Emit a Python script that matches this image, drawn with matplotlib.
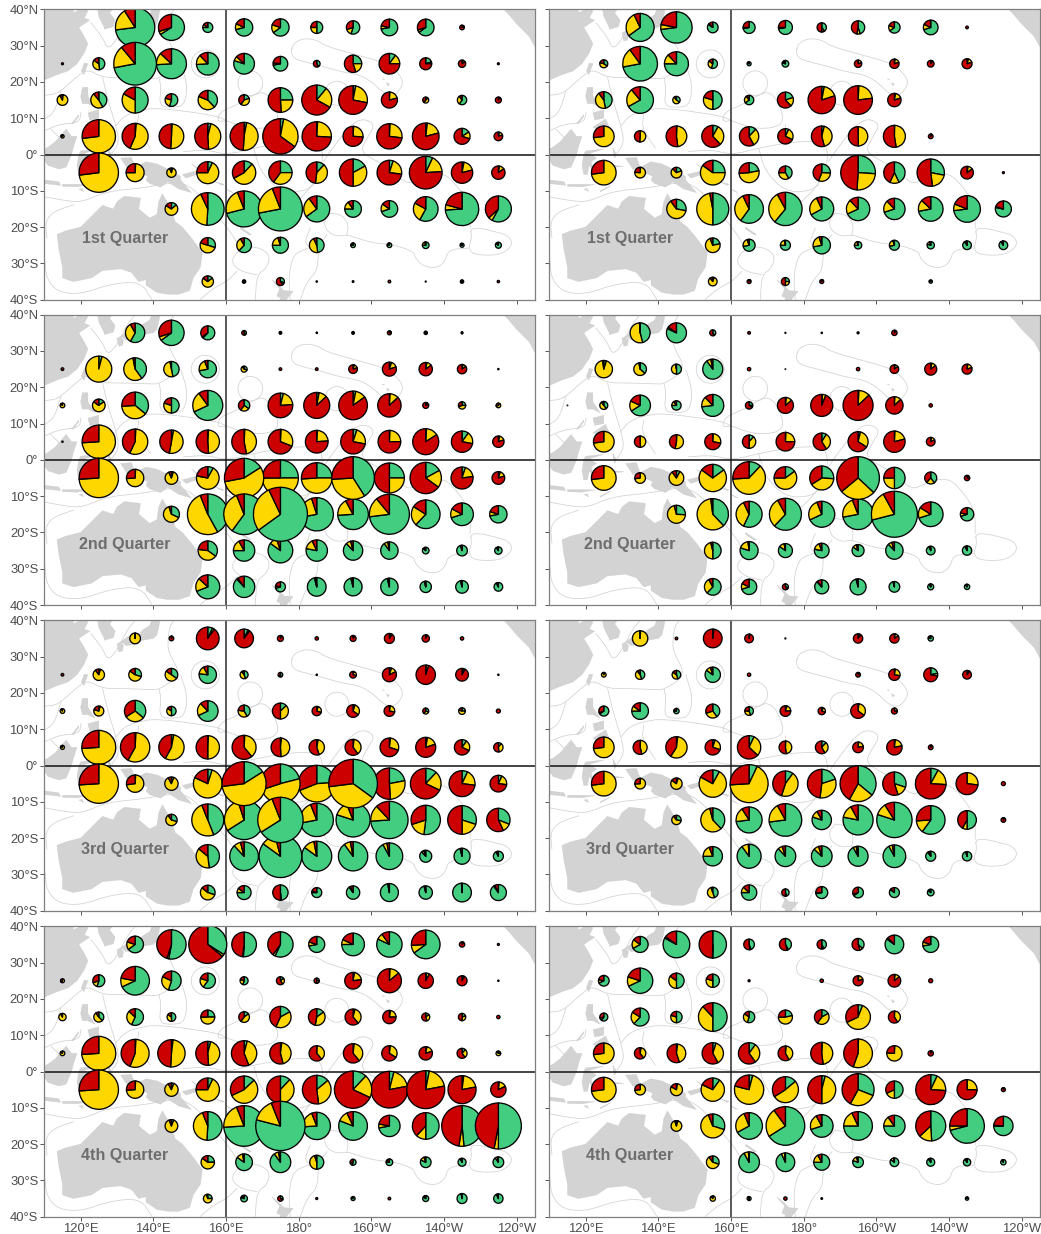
import numpy as np
import matplotlib
matplotlib.use("Agg")
import matplotlib.pyplot as plt
from matplotlib.patches import Wedge, Polygon, Circle

plt.rcParams['font.family'] = ['Liberation Sans', 'DejaVu Sans']

LONS = [115, 125, 135, 145, 155, 165, 175, 185, 195, 205, 215, 225, 235]
LATS = [35, 25, 15, 5, -5, -15, -25, -35]
XTICKS = [120, 140, 160, 180, 200, 220, 240]
XLABELS = ['120°E', '140°E', '160°E', '180°', '160°W', '140°W', '120°W']
YTICKS = [40, 30, 20, 10, 0, -10, -20, -30, -40]
YLABELS = ['40°N', '30°N', '20°N', '10°N', '0°', '10°S', '20°S', '30°S', '40°S']
GEAR_COLORS = ['#43CD80', '#FFD700', '#CD0000']
QUARTERS = ['1st Quarter', '2nd Quarter', '3rd Quarter', '4th Quarter']

Q1L_SIZE = [[0,0,60,40,16,27,27,19,21,26,26,8,0],
            [4,19,65,46,35,32,23,11,27,32,19,12,4],
            [17,25,40,20,30,17,38,46,44,25,10,15,10],
            [6,51,40,38,40,43,54,45,31,39,41,25,14],
            [0,60,28,15,34,36,36,33,42,38,50,33,21],
            [0,0,0,20,50,55,67,40,26,26,38,51,40],
            [0,0,0,0,24,23,25,23,8,8,11,7,10],
            [0,0,0,0,18,6,13,3,3.5,5,2.5,6,4.5]]
Q1L_GREEN = [[0,0,73,66,75,71,65,50,55,72,65,15,0],
             [0,48,72,74,74,80,72,40,25,10,20,5,0],
             [2,42,50,55,38,20,25,11,3,1,15,60,3],
             [0,0,1.5,1,4,3,3,1,1,1,2,16,5],
             [0,0,1,5,7,12,25,12,17,5,7,3,3],
             [0,0,0,14,51,71,72,65,75,70,58,74,58],
             [0,0,0,0,30,62,75,48,80,80,75,85,85],
             [0,0,0,0,15,60,30,0,0,0,0,60,0]]
Q1L_YELLOW = [[0,0,18,4,10,11,15,25,15,6,5,5,0],
              [0,37,17,13,14,7,5,5,20,15,5,10,0],
              [90,47,33,25,43,40,24,22,25,20,45,30,7],
              [85,73,55,50,45,48,32,25,25,26,19,14,15],
              [0,73,74,88,68,55,35,40,33,22,17,18,12],
              [0,0,0,70,42,23,22,25,15,15,25,5,5],
              [0,0,0,0,50,30,20,45,15,15,20,10,10],
              [0,0,0,0,70,10,10,0,0,0,0,10,0]]

Q1R_SIZE = [[0,0,43,48,17,19,22,15,21,18,23,5,0],
            [0,13,53,37,15,7,11,0,12,15,11,16,0],
            [0,26,41,12,29,15,25,42,44,21,0,0,0],
            [0,32,18,32,34,30,24,32,30,34,8,0,0],
            [0,38,17,17,38,31,21,27,53,33,42,20,4],
            [0,0,0,30,49,44,51,37,36,33,38,41,25],
            [0,0,0,0,23,19,16,27,12,16,12,14,14],
            [0,0,0,0,14,7,13,7,0,0,6,0,0]]
Q1R_GREEN = [[0,0,65,73,85,72,72,40,45,65,70,0,0],
             [0,35,72,75,55,85,80,0,2,3,5,5,0],
             [0,47,67,35,50,65,20,3,1,3,0,0,0],
             [0,0,1,1,8,12,7,4,0.5,0.5,2,0,0],
             [0,0,1,20,25,22,42,26,26,43,28,3,0],
             [0,0,0,28,50,60,61,67,68,70,72,73,78],
             [0,0,0,0,22,72,75,72,75,72,80,90,90],
             [0,0,0,0,5,10,25,5,0,0,80,0,0]]
Q1R_YELLOW = [[0,0,28,5,3,3,3,10,8,15,12,0,0],
              [0,45,18,13,30,5,10,0,18,17,5,15,0],
              [0,43,22,55,30,25,18,17,22,17,0,0,0],
              [0,73,50,47,30,30,25,42,49,47,3,0,0],
              [0,73,75,68,60,52,33,30,25,14,20,12,0],
              [0,0,0,62,47,33,31,26,20,18,15,8,2],
              [0,0,0,0,72,23,22,23,20,23,15,7,7],
              [0,0,0,0,85,5,25,5,0,0,0,0,0]]

Q2L_SIZE = [[0,0,30,39,22,8,5,3,5,7,6,4,0],
            [5,40,35,24,27,10,5,5,14,22,21,15,3],
            [8,20,41,24,46,18,38,40,44,36,10,12,8],
            [3,51,39,36,36,38,38,35,38,35,40,33,18],
            [0,60,27,20,35,60,55,47,65,46,48,34,20],
            [0,0,0,25,62,62,82,51,47,61,44,35,27],
            [0,0,0,0,30,33,38,33,30,27,11,17,12],
            [0,0,0,0,37,33,16,29,28,27,18,20,14]]
Q2L_GREEN = [[0,0,58,65,62,40,50,50,50,10,50,50,0],
             [0,4,40,47,72,30,0,0,5,5,3,3,0],
             [0,15,36,50,68,35,4,3,3,1,10,25,10],
             [0,0,1,3,1,1,1,1,5,1,1,10,4],
             [0,0,1,5,8,16,25,25,41,25,17,5,5],
             [0,0,0,32,42,60,65,72,74,73,62,70,72],
             [0,0,0,0,35,75,85,78,88,90,85,95,90],
             [0,0,0,0,69,88,70,96,96,96,96,96,92]]
Q2L_YELLOW = [[0,0,34,5,3,5,0,0,0,5,0,0,0],
              [0,96,57,50,22,60,0,0,15,15,12,12,0],
              [85,70,38,30,22,25,20,10,12,12,10,45,60],
              [0,74,56,50,48,46,30,23,23,24,15,18,16],
              [0,74,73,88,70,56,50,49,33,25,18,18,15],
              [0,0,0,63,52,34,28,23,18,16,22,13,8],
              [0,0,0,0,42,17,10,15,8,7,10,3,7],
              [0,0,0,0,18,2,8,2,3,3,3,3,5]]

Q2R_SIZE = [[0,0,31,31,10,5,2.5,3,4,9,0,0,0],
            [0,27,20,16,31,6,2,0,6,14,19,16,0],
            [2,13,32,15,34,12,25,34,46,27,6,0,0],
            [0,32,18,22,25,21,29,27,31,33,14,0,0],
            [0,38,17,23,42,50,35,37,65,33,19,9,0],
            [0,0,0,28,48,40,49,40,47,70,38,21,0],
            [0,0,0,0,26,28,22,23,19,27,14,15,0],
            [0,0,0,0,26,24,10,22,25,17,10,9,0]]
Q2R_GREEN = [[0,0,46,82,40,0,0,0,0,5,0,0,0],
             [0,5,37,50,90,0,0,0,0,3,3,3,0],
             [0,40,66,75,73,25,2,1,1,1,0,0,0],
             [0,0,1,1,1,12,1,9,4,1,3,0,0],
             [0,0,1,8,15,12,15,26,37,50,40,10,0],
             [0,0,0,26,38,57,62,68,72,71,70,70,0],
             [0,0,0,0,50,80,85,78,85,88,93,93,0],
             [0,0,0,0,62,70,30,88,96,96,93,90,0]]
Q2R_YELLOW = [[0,0,53,3,5,0,0,0,0,5,0,0,0],
              [0,93,60,47,7,0,0,0,0,12,12,17,0],
              [0,50,16,15,15,10,12,5,12,12,0,0,0],
              [0,73,48,52,27,38,24,32,30,20,15,0,0],
              [0,73,72,82,70,62,60,40,27,25,22,15,0],
              [0,0,0,70,60,36,30,26,22,21,14,8,0],
              [0,0,0,0,46,18,12,16,10,7,5,5,0],
              [0,0,0,0,30,12,10,2,3,3,5,7,0]]

Q3L_SIZE = [[0,0,17,8,35,29,10,6,10,16,12,6,0],
            [5,18,20,20,27,13,8,3,11,22,30,20,3],
            [8,16,33,15,32,19,25,15,20,17,10,11,7],
            [7,52,45,39,36,37,29,24,25,29,31,24,15],
            [0,60,27,21,44,67,60,56,74,48,47,40,26],
            [0,0,0,18,49,60,69,51,52,57,45,44,36],
            [0,0,0,0,36,44,65,46,45,41,19,25,16],
            [0,0,0,0,23,22,24,16,21,28,21,29,25]]
Q3L_GREEN = [[0,0,1,2,7,7,5,0,5,5,3,0,0],
             [0,5,30,35,77,45,45,0,5,5,1,3,0],
             [0,5,36,50,68,42,13,5,5,3,30,25,0],
             [0,0,1,3,1,1,2,3,2,2,3,10,10],
             [0,0,1,6,5,16,21,24,35,22,12,7,7],
             [0,0,0,30,44,66,66,72,80,74,52,30,31],
             [0,0,0,0,48,88,85,85,90,92,88,96,92],
             [0,0,0,0,30,75,48,75,90,97,96,99,90]]
Q3L_YELLOW = [[0,0,98,3,3,3,5,0,3,5,3,0,0],
              [0,85,55,50,15,45,20,0,25,13,4,5,0],
              [90,75,30,35,20,35,37,25,30,25,30,55,0],
              [85,74,57,55,49,38,47,42,38,28,17,22,38],
              [0,74,72,86,77,57,49,45,38,27,20,20,20],
              [0,0,0,60,50,29,28,22,14,14,18,20,12],
              [0,0,0,0,38,8,11,12,7,5,7,3,5],
              [0,0,0,0,56,10,2,5,3,2,3,0.5,3]]

Q3R_SIZE = [[0,0,24,5,29,14,2.5,0,15,15,9,0,0],
            [0,8,15,14,24,6,0,0,8,18,22,14,0],
            [0,16,26,9,22,14,17,12,23,10,0,0,0],
            [0,32,22,33,24,36,20,20,17,24,8,0,0],
            [0,38,17,18,42,58,39,44,55,36,47,34,7],
            [0,0,0,15,37,40,50,30,46,54,44,29,8],
            [0,0,0,0,30,37,32,32,31,35,16,15,0],
            [0,0,0,0,17,24,12,19,17,16,11,0,0]]
Q3R_GREEN = [[0,0,1,0,1,2,0,0,3,3,80,0,0],
             [0,5,45,45,85,0,0,0,5,3,22,5,0],
             [0,65,75,70,40,45,5,8,2,3,0,0,0],
             [0,0,1,2,5,7,1,12,2,2,3,0,0],
             [0,0,1,5,8,7,10,20,36,30,8,0,0],
             [0,0,0,28,38,73,73,80,78,80,60,50,3],
             [0,0,0,0,75,90,88,87,92,92,90,95,0],
             [0,0,0,0,45,75,45,72,65,85,85,0,0]]
Q3R_YELLOW = [[0,0,98,0,1,2,0,0,7,12,10,0,0],
              [0,90,45,40,10,0,0,0,10,25,6,5,0],
              [0,5,10,10,30,30,20,22,33,22,0,0,0],
              [0,73,45,57,25,30,47,30,20,20,3,0,0],
              [0,73,73,80,75,67,45,32,22,15,18,27,0],
              [0,0,0,62,58,18,19,12,14,11,14,8,3],
              [0,0,0,0,19,9,7,8,5,5,5,4,0],
              [0,0,0,0,50,12,5,3,5,2,10,0,0]]

Q4L_SIZE = [[0,0,26,45,58,38,39,25,35,39,44,9,4],
            [7,19,44,30,24,13,13,9,26,37,24,16,3],
            [12,16,26,14,22,17,33,26,25,21,13,12,6],
            [8,52,43,42,37,39,33,24,30,24,21,16,8],
            [0,60,27,21,36,42,42,44,57,56,58,43,24],
            [0,0,0,20,44,62,75,42,44,33,41,62,70],
            [0,0,0,0,21,26,32,22,10,11,17,13,17],
            [0,0,0,0,14,11,9,4,7,5,10,16,15]]
Q4L_GREEN = [[0,0,65,53,34,51,57,72,75,82,65,5,0],
             [0,55,68,55,60,55,15,25,3,1,2,3,0],
             [0,38,57,50,25,15,17,15,4,3,15,20,0],
             [0,0,1,2,4,4,2,1,2,2,3,12,25],
             [0,0,1,6,7,13,12,14,12,4,3,2,2],
             [0,0,0,6,51,74,79,74,81,72,50,48.5,50],
             [0,0,0,0,25,85,90,50,55,75,82,92,90],
             [0,0,0,0,25,80,30,0,80,0,85,97,93]]
Q4L_YELLOW = [[0,0,15,2,2,1,3,8,7,8,9,5,0],
              [60,15,10,27,20,25,25,25,20,13,6,5,0],
              [92,52,30,35,50,45,40,38,35,22,30,30,0],
              [85,74,55,49,45,40,44,38,37,32,17,28,65],
              [0,74,73,86,68,55,38,34,20,18,19,20,16],
              [0,0,0,88,43,20,15,20,12,6,12,4,3],
              [0,0,0,0,60,12,7,45,15,10,13,5,7],
              [0,0,0,0,70,10,5,0,0,0,10,2,5]]

Q4R_SIZE = [[0,0,25,41,42,17,19,15,19,29,25,0,0],
            [0,17,39,24,21,4,0,6,16,20,7,0,0],
            [0,13,28,18,44,18,22,23,38,19,0,0,0],
            [0,32,18,29,33,33,23,34,44,24,9,0,0],
            [0,38,17,19,36,45,40,43,49,27,46,31,7],
            [0,0,0,17,37,41,59,35,44,33,46,53,30],
            [0,0,0,0,20,32,29,25,17,14,13,12,9],
            [0,0,0,0,9,7,6,3.5,0,0,0,6,0]]
Q4R_GREEN = [[0,0,67,83,50,45,42,43,37,85,72,0,0],
             [0,68,68,50,50,0,0,0,3,2,0,0,0],
             [0,60,62,50,50,55,22,17,6,1,0,0,0],
             [0,0,3,2,5,10,2,1,0.5,1,3,0,0],
             [0,0,1,3,10,4,14,4,31,50,7,0.5,3],
             [0,0,0,5,30,67,66,70,75,75,49,71,75],
             [0,0,0,0,30,92,93,75,80,85,90,90,90],
             [0,0,0,0,5,50,0,0,0,0,0,85,0]]
Q4R_YELLOW = [[0,0,18,2,0.5,3,3,7,8,3,8,0,0],
              [0,10,12,35,30,0,0,0,17,12,0,0,0],
              [0,10,22,30,38,30,53,43,62,40,0,0,0],
              [0,73,37,43,37,30,40,47,55,75,5,0,0],
              [0,73,72,80,72,75,52,46,27,18,19,25,3],
              [0,0,0,90,64,27,24,22,18,15,14,4,1],
              [0,0,0,0,60,7,6,17,15,12,7,7,8],
              [0,0,0,0,85,40,0,0,0,0,0,0,0]]

# base map outlines (lon, lat)
LAND = [
 [(110,40),(118,40),(118,39),(121,40.5),(122,39.5),(121,37.6),(122.5,37),(119.5,35),(121,32.5),(122,30.5),(121,28),(119,25),(116.5,23),(113.5,22),(110,20.5)],
 [(124.5,41),(125,38),(126.5,35),(126.5,34.5),(129,35.2),(129.5,37),(128,39),(129.5,41)],
 [(130,33.5),(130.5,31.3),(131.5,31.5),(131.8,33),(131,34)],
 [(131,34),(133,35.5),(136,36),(137,37.3),(139,38.5),(140,41),(142,41),(141.5,38),(141,36),(140,35),(137,34.5),(135.5,33.5),(134,33.3),(132.5,33),(131.5,33.8)],
 [(120.2,23),(121,25.2),(122,25),(120.9,22)],
 [(120,16),(120.5,18.5),(122,18.5),(122,16),(124,13),(122,14),(120.5,14)],
 [(122,7.5),(123.5,8.5),(125.5,9.8),(126.5,7.5),(125.5,6),(124,6.5)],
 [(122,11.5),(125,12.3),(125,10),(122.5,9.5)],
 [(117.5,8.5),(119.5,11),(119.5,10.5),(118,8.5)],
 [(110,1.5),(111,2),(113,3.5),(116,7),(117.5,5),(119,5),(118,2),(117.5,0),(116,-3.5),(114,-4),(111,-3),(110,-1.5)],
 [(119.5,0),(120,1),(125,1.5),(121,0.3),(123,-1),(121.5,-2),(122.5,-5),(121,-3),(120.5,-5.5),(119.5,-5.5),(119,-3)],
 [(110,-7),(114,-7.5),(114.5,-8.5),(110,-8)],
 [(115,-8.2),(119,-8.2),(122.5,-8.3),(119,-8.9),(115,-8.8)],
 [(119.5,-9.5),(120.5,-9.4),(120.8,-10.2)],
 [(124,-10),(127,-8.5),(125.5,-9.5),(124,-10.3)],
 [(127.5,1.8),(128.5,0),(128,-1),(127.7,0)],
 [(128,-3),(130.5,-3.3),(128,-3.5)],
 [(131,-1),(134,-0.8),(135,-3.5),(138,-2),(141,-2.6),(145,-4.5),(147.5,-6),(147.5,-7),(150.5,-10.5),(147,-9.5),(144,-7.5),(142,-9),(139,-8),(138,-7),(138.5,-6),(135,-4.5),(133,-4),(132,-2.5)],
 [(148,-5.5),(152,-4.5),(152,-5.5),(149,-6.5)],
 [(150.5,-2.5),(152.5,-4),(152.7,-4.7)],
 [(155,-6),(156,-6.8),(155.5,-6.8)],
 [(157,-7.5),(159,-8.5),(159.5,-8.2)],
 [(160,-9.5),(161,-10.2),(162,-10.5),(160.5,-9.7)],
 [(167,-15),(167.5,-16),(168.5,-17),(167.8,-15.5)],
 [(164,-20),(167,-22),(166.5,-22.2),(164,-20.5)],
 [(177.2,-17.5),(178.6,-17.5),(178.5,-18.3),(177.3,-18.2)],
 [(204.2,19.8),(204.8,19.5),(205,19.2),(204.5,18.9)],
 [(203,20.8),(203.7,20.6),(203.3,20.9)],
 [(113.5,-22),(114,-26),(115,-31),(115,-34),(118,-35),(123,-34),(126,-32),(131,-31.5),(134,-32.5),(136,-35),(138,-34.5),(138,-36),(141,-38),(144,-38.5),(147,-38.5),(150,-37.5),(151,-34),(153,-31),(153.5,-27),(150.5,-23),(148,-20),(146,-18.5),(145,-15),(143.5,-12.5),(142.5,-10.8),(141.5,-13),(141,-16.5),(139,-17.5),(136,-15),(136.5,-12),(132,-11.5),(130,-13),(129,-15),(126,-14),(123,-17),(120,-20),(116,-21)],
 [(172.7,-34.5),(175,-36.5),(176,-37.5),(178.5,-37.7),(177,-39.5),(175.5,-41.5),(174.7,-41),(175,-39.5),(174,-39),(174.8,-37),(173,-35)],
 [(172,-40.5),(174,-41.2),(172,-42)],
 [(236.5,40),(238,38.4),(240,36),(242,34),(243.5,32.5),(245,29.7),(245,40)],
]

# boundary traces, in 3x pixel units of a panel
EEZ = [
 [(752,140),(760,115),(790,100),(830,105),(860,125),(950,150),(1040,175),(1080,210),(1090,240),(1060,275),(1030,265),(1000,235),(960,210),(900,200),(850,185),(790,170),(760,160),(752,140)],
 [(1290,670),(1295,700),(1285,730),(1300,750),(1370,752),(1405,735),(1417,712),(1400,690),(1360,680),(1330,672),(1290,670)],
 [(1285,730),(1225,735),(1215,770),(1190,790),(1150,785),(1125,760),(1120,740),(1060,720),(1000,715),(950,700),(920,690),(890,695),(860,680),(850,650),(870,625)],
 [(1290,670),(1290,610),(1265,560),(1210,500),(1140,520),(1100,540),(1050,490),(1010,470),(960,440),(980,400),(1005,360),(970,340),(930,360),(870,440)],
 [(920,690),(925,660),(905,630),(870,625)],
 [(810,670),(790,720),(830,730),(860,690)],
 [(645,884),(650,810),(680,790),(690,750),(650,725),(600,730),(570,770),(600,800),(650,810)],
 [(750,885),(745,810),(760,750),(790,735),(830,720),(835,745),(830,800),(800,830),(780,885)],
 [(12,576),(90,590),(130,590),(200,560),(300,550),(360,540),(420,530),(470,560),(520,620),(570,680),(600,730)],
 [(20,700),(15,650),(40,620),(100,600)],
 [(14,770),(19,823),(54,863),(124,868),(209,838),(300,830),(335,884)],
 [(480,884),(520,850),(560,830),(590,800)],
 [(152,53),(187,98),(202,133),(227,108),(262,40),(285,13)],
 [(12,271),(42,268),(62,258),(112,213),(142,193),(187,218),(252,218),(332,221),(357,221),(422,178),(387,113),(382,88),(387,33),(402,13)],
 [(357,221),(362,248),(357,303),(392,308),(432,303),(442,243),(422,178)],
 [(62,258),(42,323),(12,343)],
 [(12,378),(57,358),(117,353),(122,323)],
 [(187,218),(202,283),(227,363),(237,413),(215,445)],
 [(227,363),(252,333),(292,318),(352,308),(532,333),(557,348),(640,375),(720,360),(700,290),(670,260),(640,270),(590,300),(540,320),(530,350),(557,348)],
 [(32,373),(72,413),(12,433)],
 [(295,330),(290,370),(330,430)],
 [(430,440),(500,435),(560,450),(640,430),(720,415),(770,410),(840,410),(850,470),(820,540),(760,600),(720,640)],
 [(720,360),(725,410)],
 [(640,430),(660,500),(720,560),(790,560),(820,540)],
 [(870,440),(850,470)],
]
EEZ_CIRCLES = [(630,235,37),(495,177,42),(890,265,36)]


def trace_to_map(zx, zy):
    return 110 + (zx - 12) / 10.9, 40 - (zy - 13) / 10.9


def smooth(pts, rounds=2):
    pts = np.asarray(pts, float)
    closed = np.allclose(pts[0], pts[-1])
    for _ in range(rounds):
        a, b = pts[:-1], pts[1:]
        q = 0.75 * a + 0.25 * b
        r = 0.25 * a + 0.75 * b
        mid = np.empty((2 * len(a), 2))
        mid[0::2], mid[1::2] = q, r
        if closed:
            pts = np.vstack([mid, mid[0]])
        else:
            pts = np.vstack([pts[0], mid, pts[-1]])
    return pts


W, H = 1041, 1234
fig = plt.figure(figsize=(W / 100, H / 100), dpi=100, facecolor='white')
COLS = [(44.3, 534.7), (549.3, 1039.7)]
ROWS = [(9.3, 299.7), (314.7, 605.0), (620.3, 910.7), (926.3, 1216.7)]

PANELS = [(Q1L_SIZE, Q1L_GREEN, Q1L_YELLOW), (Q1R_SIZE, Q1R_GREEN, Q1R_YELLOW),
          (Q2L_SIZE, Q2L_GREEN, Q2L_YELLOW), (Q2R_SIZE, Q2R_GREEN, Q2R_YELLOW),
          (Q3L_SIZE, Q3L_GREEN, Q3L_YELLOW), (Q3R_SIZE, Q3R_GREEN, Q3R_YELLOW),
          (Q4L_SIZE, Q4L_GREEN, Q4L_YELLOW), (Q4R_SIZE, Q4R_GREEN, Q4R_YELLOW)]

for i, (sizes, greens, yellows) in enumerate(PANELS):
    row, col = i // 2, i % 2
    x0, x1 = COLS[col]
    y0, y1 = ROWS[row]
    ax = fig.add_axes([x0 / W, 1 - y1 / H, (x1 - x0) / W, (y1 - y0) / H])
    ax.set_xlim(110, 245)
    ax.set_ylim(-40, 40)
    ax.set_aspect('auto')
    for s in ax.spines.values():
        s.set_color('#7f7f7f')
        s.set_linewidth(0.9)
        s.set_zorder(50)
    ax.set_xticks(XTICKS)
    ax.set_yticks(YTICKS)
    ax.set_xticklabels(XLABELS if row == 3 else [''] * len(XTICKS))
    ax.set_yticklabels(YLABELS if col == 0 else [''] * len(YTICKS))
    ax.tick_params(length=2.8, width=0.7, color='#555555', labelcolor='#4d4d4d',
                   labelsize=9.4, pad=1.5)

    for pts in EEZ:
        xy = smooth([trace_to_map(*p) for p in pts])
        ax.plot(xy[:, 0], xy[:, 1], color='#d2d2d2', lw=0.55, zorder=1, solid_joinstyle='round')
    for zx, zy, zr in EEZ_CIRCLES:
        cx, cy = trace_to_map(zx, zy)
        ax.add_patch(Circle((cx, cy), zr / 10.9, fill=False, ec='#d2d2d2', lw=0.55, zorder=1))
    for poly in LAND:
        ax.add_patch(Polygon(poly, closed=True, fc='#d3d3d3', ec='#c4c4c4', lw=0.2, zorder=2))

    ax.axvline(160, color='#3c3c3c', lw=1.2, zorder=4)
    ax.axhline(0, color='#111111', lw=1.1, zorder=4)

    ax.text(132.1, -23.2, QUARTERS[row], fontsize=11.6, fontweight='bold',
            color='#6e6e6e', ha='center', va='center', zorder=3)

    marks = []
    for r, lat in enumerate(LATS):
        for c, lon in enumerate(LONS):
            if sizes[r][c] > 0:
                marks.append((sizes[r][c], lon, lat, greens[r][c], yellows[r][c]))
    marks.sort(key=lambda m: m[0])
    for n, (sz, lon, lat, g, y) in enumerate(marks):
        radius = max(sz - 1.0, 0.8) / 10.9
        parts = [g, y, max(100 - g - y, 0)]
        start = 90.0
        z = 10 + n * 0.01
        for frac, colr in zip(parts, GEAR_COLORS):
            if frac <= 0:
                continue
            sweep = 360.0 * frac / 100.0
            ax.add_patch(Wedge((lon, lat), radius, start - sweep, start, fc=colr,
                               ec='black', lw=0.95, zorder=z, joinstyle='round'))
            start -= sweep

fig.savefig('out.png', dpi=100, facecolor='white')
